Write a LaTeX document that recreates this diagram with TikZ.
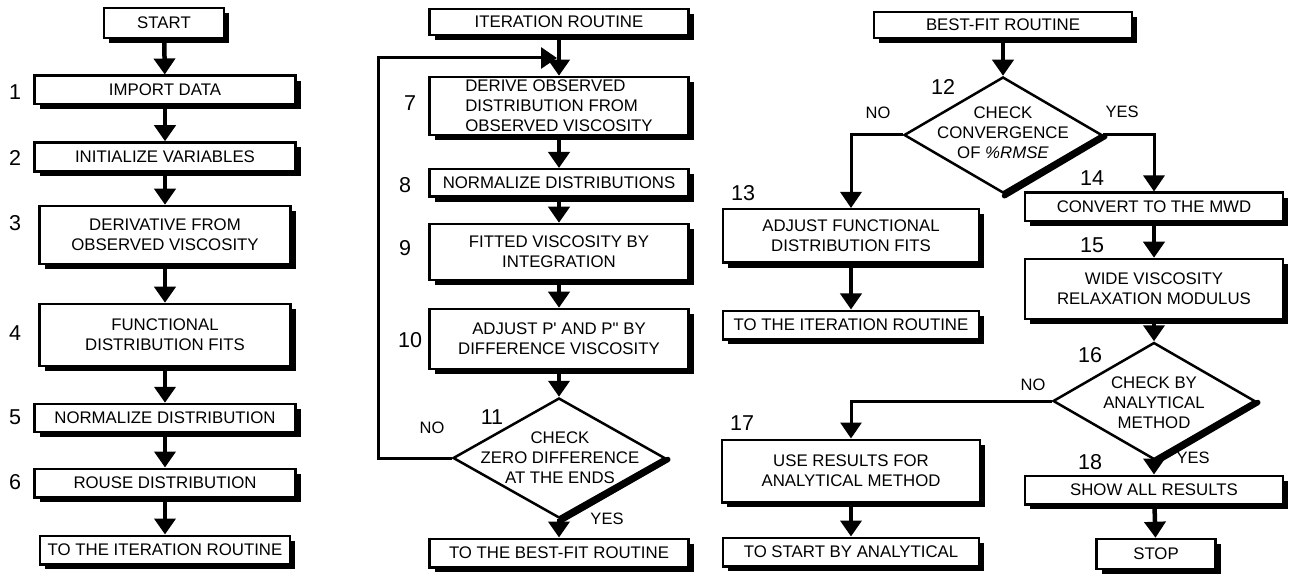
\documentclass[tikz,border=0pt]{standalone}
\usepackage{fontspec}
\setmainfont{Liberation Sans}
\usetikzlibrary{arrows.meta,shadows,calc,shapes.geometric}
\begin{document}
\begin{tikzpicture}[x=1pt,y=-1pt,
  every node/.style={font=\fontsize{16.8}{20}\selectfont},
  box/.style={draw=black, line width=2.5pt, fill=white, inner sep=0pt, align=center,
    drop shadow={shadow xshift=5pt, shadow yshift=-5pt, fill=black, opacity=1}},
  dia/.style={draw=black, line width=2.5pt, fill=white, diamond, inner sep=0pt},
  num/.style={font=\fontsize{21.5}{21.5}\selectfont},
  lbl/.style={font=\fontsize{16.5}{16.5}\selectfont},
  arr/.style={line width=4.5pt, -{Triangle[width=21pt,length=16pt]}},
  brn/.style={line width=3pt, -{Triangle[width=21pt,length=16pt]}},
  thk/.style={line width=5.5pt, line cap=round},
]
\path[fill=white, use as bounding box] (0,0) rectangle (1290,577);

% ---------- left column ----------
\node[box, minimum width=120, minimum height=30]   (start) at (164,23)  {START};
\node[box, minimum width=261, minimum height=28.5] (imp)   at (165,90)  {IMPORT DATA};
\node[box, minimum width=261, minimum height=29]   (init)  at (165,157) {INITIALIZE VARIABLES};
\node[box, minimum width=251, minimum height=58]   (deriv) at (165,235) {DERIVATIVE FROM\\OBSERVED VISCOSITY};
\node[box, minimum width=251, minimum height=62]   (func)  at (165,335) {FUNCTIONAL\\DISTRIBUTION FITS};
\node[box, minimum width=261, minimum height=28]   (norm)  at (165,418) {NORMALIZE DISTRIBUTION};
\node[box, minimum width=261, minimum height=28.5] (rouse) at (165,483) {ROUSE DISTRIBUTION};
\node[box, minimum width=250, minimum height=28.5] (toit)  at (165,550) {TO THE ITERATION ROUTINE};

\draw[arr] (start) -- (imp);
\draw[arr] (imp) -- (init);
\draw[arr] (init) -- (deriv);
\draw[arr] (deriv) -- (func);
\draw[arr] (func) -- (norm);
\draw[arr] (norm) -- (rouse);
\draw[arr] (rouse) -- (toit);

\node[num] (n1) at (15,92)  {1};
\node[num] (n2) at (15,158) {2};
\node[num] (n3) at (15,223) {3};
\node[num] (n4) at (15,333) {4};
\node[num] (n5) at (15,417) {5};
\node[num] (n6) at (15,482) {6};

% ---------- middle column ----------
\node[box, minimum width=259, minimum height=26]   (iter)   at (559,22)  {ITERATION ROUTINE};
\node[box, minimum width=259, minimum height=58, align=left] (derive) at (559,106) {DERIVE OBSERVED\\DISTRIBUTION FROM\\OBSERVED VISCOSITY};
\node[box, minimum width=259, minimum height=27.5] (norms)  at (559,183) {NORMALIZE DISTRIBUTIONS};
\node[box, minimum width=259, minimum height=56]   (fitted) at (559,252) {FITTED VISCOSITY BY\\INTEGRATION};
\node[box, minimum width=259, minimum height=60]   (adjp)   at (559,339) {ADJUST P\textquotesingle{} AND P\textquotedbl{} BY\\DIFFERENCE VISCOSITY};
\node[dia, minimum width=212, minimum height=120]  (d11)    at (559,458) {};
\draw[thk] ($(d11.east)+(1.5,1.5)$) -- ($(d11.south)+(1.5,1.5)$);
\node[align=center] (t11) at (560,458) {CHECK\\ZERO DIFFERENCE\\AT THE ENDS};
\node[box, minimum width=259, minimum height=28.5] (tobf)   at (559,553) {TO THE BEST-FIT ROUTINE};

\coordinate (lpb) at (378,458);
\coordinate (lpt) at (378,58);
\draw[arr] (iter) -- (derive);
\draw[brn] (d11.west) -- (lpb) -- (lpt) -- ($(iter.south |- lpt)+(-2,0)$);
\draw[arr] (derive) -- (norms);
\draw[arr] (norms) -- (fitted);
\draw[arr] (fitted) -- (adjp);
\draw[arr] (adjp) -- (d11.north);
\draw[arr] (d11.south) -- (tobf);

\node[num] (n7)  at (410,103) {7};
\node[num] (n8)  at (405,185) {8};
\node[num] (n9)  at (405,248) {9};
\node[num] (n10) at (410,340) {10};
\node[num] (n11) at (492,417) {11};
\node[lbl] (no11)  at (432,428) {NO};
\node[lbl] (yes11) at (607,519) {YES};

% ---------- right column ----------
\node[box, minimum width=258, minimum height=26]   (bfr)   at (1003,25) {BEST-FIT ROUTINE};
\node[dia, minimum width=198, minimum height=116]  (d12)   at (1003,135) {};
\draw[thk] ($(d12.east)+(1.5,1.5)$) -- ($(d12.south)+(1.5,1.5)$);
\node[align=center] (t12) at (1003,133) {CHECK\\CONVERGENCE\\OF \textit{\%RMSE}};

\node[box, minimum width=256, minimum height=53.5] (adjf)  at (851,236) {ADJUST FUNCTIONAL\\DISTRIBUTION FITS};
\node[box, minimum width=256, minimum height=28.5] (toit2) at (851,325) {TO THE ITERATION ROUTINE};
\node[box, minimum width=258, minimum height=62.5] (use)   at (851,471) {USE RESULTS FOR\\ANALYTICAL METHOD};
\node[box, minimum width=256, minimum height=28.5] (tost)  at (851,552) {TO START BY ANALYTICAL};

\node[box, minimum width=258, minimum height=28.5] (conv)  at (1154,207) {CONVERT TO THE MWD};
\node[box, minimum width=258, minimum height=60]   (wide)  at (1154,289) {WIDE VISCOSITY\\RELAXATION MODULUS};
\node[dia, minimum width=202, minimum height=117]  (d16)   at (1154,401) {};
\draw[thk] ($(d16.east)+(1.5,1.5)$) -- ($(d16.south)+(1.5,1.5)$);
\node[align=center] (t16) at (1154,403) {CHECK BY\\ANALYTICAL\\METHOD};
\node[box, minimum width=258, minimum height=28.5] (show)  at (1154,490) {SHOW ALL RESULTS};
\node[box, minimum width=119, minimum height=30]   (stop)  at (1156,554) {STOP};

\draw[arr] (bfr) -- (d12.north);
\draw[brn] (d12.west) -| (adjf.north);
\draw[brn] (d12.east) -| (conv.north);
\draw[arr] (adjf) -- (toit2);
\draw[arr] (conv) -- (wide);
\draw[arr] (wide) -- (d16.north);
\draw[brn] (d16.west) -| (use.north);
\draw[arr] (d16.south) -- (show);
\draw[arr] (show) -- (stop);
\draw[arr] (use) -- (tost);

\node[num] (n12) at (943,87)   {12};
\node[num] (n13) at (743,193)  {13};
\node[num] (n14) at (1092,178) {14};
\node[num] (n15) at (1092,245) {15};
\node[num] (n16) at (1090,355) {16};
\node[num] (n17) at (742,423)  {17};
\node[num] (n18) at (1090,462) {18};
\node[lbl] (no12)  at (878,113)  {NO};
\node[lbl] (yes12) at (1122,112) {YES};
\node[lbl] (no16)  at (1033,385) {NO};
\node[lbl] (yes16) at (1193,458) {YES};
\end{tikzpicture}
\end{document}
